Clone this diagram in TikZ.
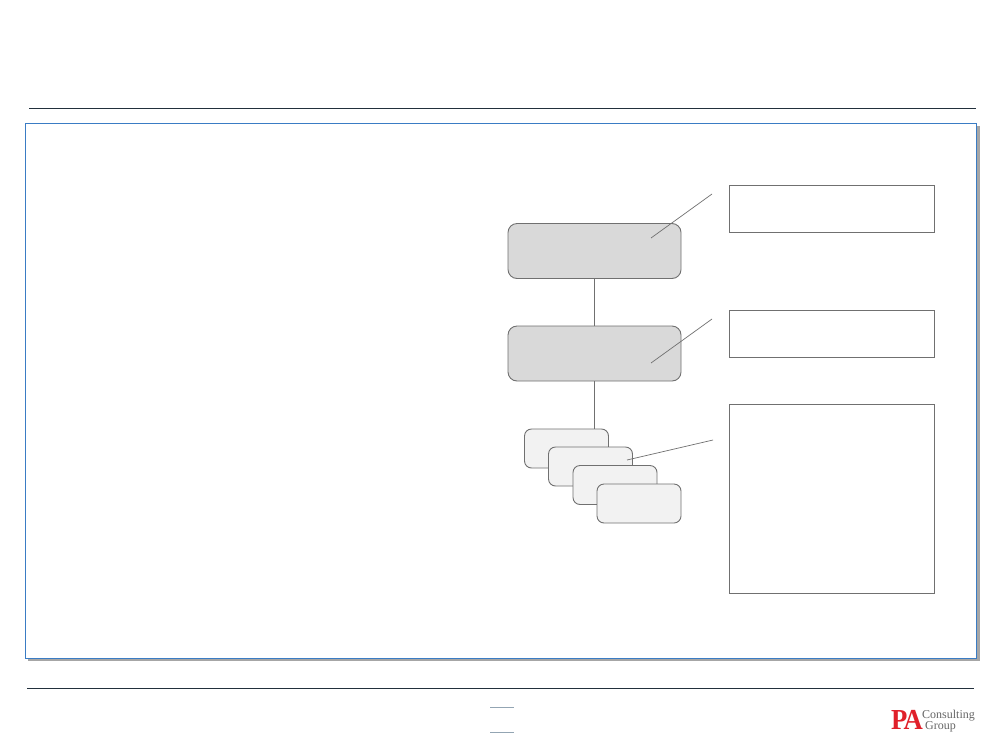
\documentclass[tikz,border=0pt]{standalone}
\usepackage{fontspec}
\setmainfont{Liberation Serif}
\definecolor{framegray}{HTML}{A6A6A6}
\definecolor{frameblue}{HTML}{3A7CC4}
\definecolor{ruledark}{HTML}{22303C}
\definecolor{stubgray}{HTML}{93A5B3}
\definecolor{edgegray}{HTML}{707070}
\definecolor{bigfill}{HTML}{D9D9D9}
\definecolor{smallfill}{HTML}{F2F2F2}
\definecolor{logored}{HTML}{E0202A}
\definecolor{logogray}{HTML}{666666}
\tikzset{
  bigbox/.style={draw=edgegray,fill=bigfill,line width=0.9pt,rounded corners=9pt,minimum width=173pt,minimum height=55pt,inner sep=0pt,outer sep=0pt},
  smallbox/.style={draw=edgegray,fill=smallfill,line width=0.9pt,rounded corners=7pt,minimum width=84pt,minimum height=39pt,inner sep=0pt,outer sep=0pt},
  notebox/.style={draw=edgegray,fill=white,line width=0.9pt,minimum width=205pt,inner sep=0pt,outer sep=0pt},
  wire/.style={draw=edgegray,line width=0.9pt},
  rulel/.style={draw=ruledark,line width=1pt},
  stub/.style={draw=stubgray,line width=1pt}
}
\begin{document}
\begin{tikzpicture}[x=1pt,y=-1pt]
\useasboundingbox (0,0) rectangle (1000,750);
\fill[white] (0,0) rectangle (1000,750);
% header and footer rules
\coordinate (tl) at (29,108.5); \coordinate (tr) at (976,108.5);
\coordinate (bl) at (27,688); \coordinate (br) at (974,688);
\draw[rulel] (tl) -- (tr);
\draw[rulel] (bl) -- (br);
% frame with shadow
\fill[framegray] (28,126) rectangle (979.5,661);
\node[draw=frameblue,fill=white,line width=1.2pt,minimum width=951pt,minimum height=535pt,inner sep=0pt,outer sep=0pt] (frame) at (500.75,391) {};
% boxes
\node[bigbox] (a) at (594.5,251) {};
\node[bigbox] (b) at (594.5,353.5) {};
\node[smallbox] (s1) at (566.5,448.5) {};
\node[smallbox] (s2) at (590.5,466.5) {};
\node[smallbox] (s3) at (615,485) {};
\node[smallbox] (s4) at (639,503.5) {};
\draw[wire] (a.south) -- (b.north);
\draw[wire] (b.south) -- (b.south |- s1.north);
% notes
\node[notebox,minimum height=47pt] (n1) at (832,208.5) {};
\node[notebox,minimum height=47pt] (n2) at (832,333.5) {};
\node[notebox,minimum height=189pt] (n3) at (832,499) {};
% leader lines
\coordinate (l1a) at (712,194); \coordinate (l1b) at (651,238);
\coordinate (l2a) at (712,319); \coordinate (l2b) at (651,363);
\coordinate (l3a) at (713,440); \coordinate (l3b) at (627,460);
\draw[wire,line width=0.7pt] (l1a) -- (l1b);
\draw[wire,line width=0.7pt] (l2a) -- (l2b);
\draw[wire,line width=0.7pt] (l3a) -- (l3b);
% footer stubs
\coordinate (f1a) at (490,707.5); \coordinate (f1b) at (514,707.5);
\coordinate (f2a) at (490,732.5); \coordinate (f2b) at (514,732.5);
\draw[stub] (f1a) -- (f1b);
\draw[stub] (f2a) -- (f2b);
% logo
\node[anchor=center,inner sep=0pt,text=logored,font=\bfseries\fontsize{29}{29}\selectfont,xscale=0.92] (logopa) at (907,719.5) {P\kern-4ptA};
\node[anchor=west,inner sep=0pt,text=logogray,font=\fontsize{12}{12}\selectfont] (logoc) at (922,715.5) {Consulting};
\node[anchor=west,inner sep=0pt,text=logogray,font=\fontsize{12}{12}\selectfont] (logog) at (925,726.5) {Group};
\end{tikzpicture}
\end{document}
